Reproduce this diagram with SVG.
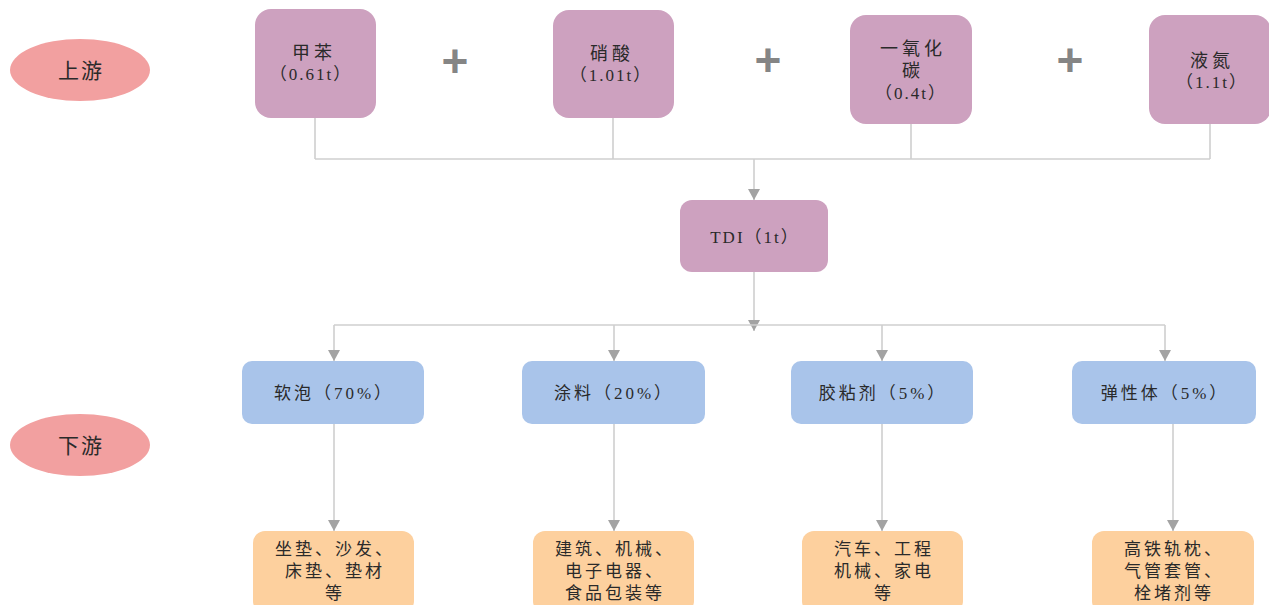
<svg xmlns="http://www.w3.org/2000/svg" width="1269" height="605" viewBox="0 0 1269 605">
<style>
.bg{fill:#ffffff}
.up{fill:#CDA1BF}
.mid{fill:#A9C4EA}
.low{fill:#FDD09E}
.ell{fill:#F2A0A0}
.t{font-family:"Liberation Serif","Noto Sans CJK SC",serif;font-size:17px;fill:#2a2a2a;text-anchor:middle;letter-spacing:3px}
.t2{font-family:"Liberation Serif","Noto Sans CJK SC",serif;font-size:17px;fill:#2a2a2a;text-anchor:middle;letter-spacing:2px}
.tt{font-family:"Liberation Serif","Noto Sans CJK SC",serif;font-size:18px;fill:#2a2a2a;text-anchor:middle;letter-spacing:4px}
.te{font-family:"Liberation Serif","Noto Sans CJK SC",serif;font-size:21px;fill:#2a2a2a;text-anchor:middle;letter-spacing:2px}
.plus{font-family:"Liberation Sans",sans-serif;font-size:46px;font-weight:bold;fill:#858585;text-anchor:middle}
.ln{fill:none;stroke:#CFCFCF;stroke-width:1.6}
</style>
<defs>
<marker id="arr" markerUnits="userSpaceOnUse" markerWidth="12" markerHeight="12" refX="11" refY="6" orient="auto">
<path d="M0,0 L11,6 L0,12 z" fill="#A3A3A3"/>
</marker>
</defs>
<rect class="bg" width="1269" height="605"/>

<g id="connectors">
<path class="ln" d="M315 118 V159 M613 118 V159 M911 124 V159 M1210 124 V159 M315 159 H1210"/>
<path class="ln" d="M754 159 V200" marker-end="url(#arr)"/>
<path class="ln" d="M754 272 V331" marker-end="url(#arr)"/>
<path class="ln" d="M334 325 H1165"/>
<path class="ln" d="M334 325 V361" marker-end="url(#arr)"/>
<path class="ln" d="M614 325 V361" marker-end="url(#arr)"/>
<path class="ln" d="M882 325 V361" marker-end="url(#arr)"/>
<path class="ln" d="M1165 325 V361" marker-end="url(#arr)"/>
<path class="ln" d="M334 424 V531" marker-end="url(#arr)"/>
<path class="ln" d="M614 424 V531" marker-end="url(#arr)"/>
<path class="ln" d="M882 424 V531" marker-end="url(#arr)"/>
<path class="ln" d="M1173 424 V531" marker-end="url(#arr)"/>
</g>

<g id="upstream-label">
<ellipse class="ell" cx="80" cy="70" rx="70" ry="31"/>
<text class="te" x="81" y="78">上游</text>
</g>
<g id="downstream-label">
<ellipse class="ell" cx="80" cy="445" rx="70" ry="31"/>
<text class="te" x="81" y="453">下游</text>
</g>

<g id="toluene">
<rect class="up" x="255" y="9" width="121" height="109" rx="16"/>
<text class="tt" x="314" y="59">甲苯</text>
<text class="t2" x="311" y="80">（0.61t）</text>
</g>
<text class="plus" x="455" y="77">+</text>
<g id="nitric-acid">
<rect class="up" x="553" y="10" width="121" height="108" rx="16"/>
<text class="tt" x="612" y="60">硝酸</text>
<text class="t2" x="611" y="81">（1.01t）</text>
</g>
<text class="plus" x="768" y="76">+</text>
<g id="carbon-monoxide">
<rect class="up" x="850" y="15" width="122" height="109" rx="16"/>
<text class="tt" x="913" y="55">一氧化</text>
<text class="tt" x="913" y="77">碳</text>
<text class="t2" x="911" y="99">（0.4t）</text>
</g>
<text class="plus" x="1070" y="76">+</text>
<g id="liquid-nitrogen">
<rect class="up" x="1149" y="15" width="122" height="109" rx="16"/>
<text class="tt" x="1212" y="67">液氮</text>
<text class="t2" x="1212" y="88">（1.1t）</text>
</g>

<g id="tdi">
<rect class="up" x="680" y="200" width="148" height="72" rx="12"/>
<text class="t2" x="755" y="243">TDI（1t）</text>
</g>

<g id="soft-foam">
<rect class="mid" x="242" y="361" width="182" height="63" rx="10"/>
<text class="t" x="334" y="399">软泡（70%）</text>
</g>
<g id="coating">
<rect class="mid" x="522" y="361" width="183" height="63" rx="10"/>
<text class="t" x="614" y="399">涂料（20%）</text>
</g>
<g id="adhesive">
<rect class="mid" x="791" y="361" width="182" height="63" rx="10"/>
<text class="t" x="883" y="399">胶粘剂（5%）</text>
</g>
<g id="elastomer">
<rect class="mid" x="1072" y="361" width="184" height="63" rx="10"/>
<text class="t" x="1165" y="399">弹性体（5%）</text>
</g>

<g id="foam-uses">
<rect class="low" x="253" y="531" width="161" height="82" rx="12"/>
<text class="t" x="335" y="555">坐垫、沙发、</text>
<text class="t" x="335" y="577">床垫、垫材</text>
<text class="t" x="335" y="599">等</text>
</g>
<g id="coating-uses">
<rect class="low" x="533" y="531" width="161" height="82" rx="12"/>
<text class="t" x="615" y="555">建筑、机械、</text>
<text class="t" x="615" y="577">电子电器、</text>
<text class="t" x="615" y="599">食品包装等</text>
</g>
<g id="adhesive-uses">
<rect class="low" x="802" y="531" width="161" height="82" rx="12"/>
<text class="t" x="884" y="555">汽车、工程</text>
<text class="t" x="884" y="577">机械、家电</text>
<text class="t" x="884" y="599">等</text>
</g>
<g id="elastomer-uses">
<rect class="low" x="1092" y="531" width="162" height="82" rx="12"/>
<text class="t" x="1174" y="555">高铁轨枕、</text>
<text class="t" x="1174" y="577">气管套管、</text>
<text class="t" x="1174" y="599">栓堵剂等</text>
</g>
</svg>
